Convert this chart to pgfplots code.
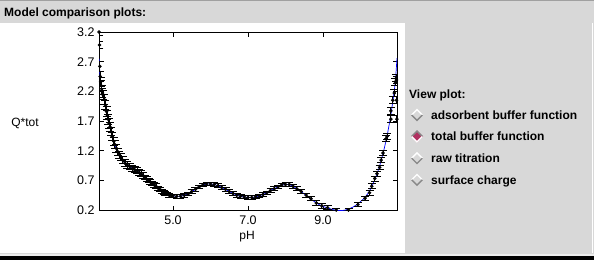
\documentclass[border=0pt]{standalone}
\usepackage{fontspec}
\setmainfont{Liberation Sans}
\usepackage{pgfplots}
\usepackage{pgfplotstable}
\pgfplotsset{compat=1.18}
\definecolor{bg}{RGB}{216,216,216}
\definecolor{edge}{RGB}{136,136,136}
\definecolor{sel}{RGB}{176,48,96}
\definecolor{topline}{RGB}{160,160,160}

\pgfplotstableread{
x y e
3.03 3.20 0.06
3.04 2.98 0.06
3.05 2.62 0.08
3.06 2.45 0.08
3.07 2.36 0.08
3.08 2.30 0.08
3.10 2.22 0.08
3.12 2.17 0.08
3.14 2.14 0.08
3.17 2.06 0.08
3.20 1.97 0.08
3.23 1.86 0.08
3.25 1.80 0.08
3.27 1.73 0.08
3.30 1.66 0.08
3.32 1.60 0.07
3.35 1.52 0.07
3.38 1.44 0.07
3.42 1.36 0.07
3.45 1.30 0.07
3.49 1.24 0.07
3.53 1.18 0.06
3.57 1.13 0.06
3.61 1.09 0.06
3.66 1.04 0.06
3.72 0.99 0.06
3.78 0.96 0.06
3.85 0.93 0.05
3.92 0.90 0.05
3.98 0.88 0.05
4.04 0.86 0.05
4.10 0.83 0.05
4.15 0.81 0.05
4.20 0.78 0.05
4.25 0.75 0.04
4.30 0.72 0.04
4.35 0.70 0.04
4.40 0.67 0.04
4.45 0.65 0.04
4.50 0.62 0.04
4.55 0.60 0.04
4.60 0.57 0.035
4.65 0.55 0.035
4.70 0.52 0.035
4.75 0.50 0.035
4.80 0.48 0.03
4.85 0.47 0.03
4.90 0.45 0.03
4.95 0.44 0.03
5.00 0.44 0.03
5.10 0.43 0.03
5.20 0.43 0.03
5.30 0.45 0.03
5.40 0.47 0.03
5.50 0.51 0.03
5.60 0.55 0.03
5.70 0.59 0.03
5.80 0.62 0.03
5.90 0.64 0.03
6.00 0.64 0.03
6.10 0.63 0.03
6.20 0.61 0.03
6.30 0.58 0.03
6.40 0.55 0.03
6.50 0.51 0.03
6.60 0.48 0.03
6.70 0.45 0.03
6.80 0.43 0.03
6.90 0.42 0.03
7.00 0.41 0.03
7.10 0.41 0.03
7.20 0.42 0.03
7.30 0.44 0.03
7.40 0.46 0.03
7.50 0.49 0.03
7.60 0.53 0.03
7.70 0.56 0.03
7.80 0.59 0.03
7.90 0.62 0.03
8.00 0.63 0.03
8.10 0.63 0.03
8.20 0.60 0.03
8.30 0.56 0.035
8.42 0.51 0.035
8.55 0.45 0.035
8.68 0.39 0.035
8.82 0.32 0.035
8.97 0.27 0.035
9.12 0.24 0.035
9.35 0.20 0.035
9.68 0.20 0.035
9.93 0.29 0.035
10.12 0.40 0.035
10.24 0.49 0.04
10.30 0.60 0.04
10.38 0.73 0.04
10.44 0.81 0.04
10.51 0.92 0.04
10.55 1.04 0.04
10.60 1.16 0.045
10.68 1.40 0.05
10.71 1.44 0.05
10.81 1.73 0.06
10.97 1.73 0.06
10.81 1.87 0.06
10.86 2.05 0.06
10.96 2.05 0.06
10.90 2.17 0.06
10.93 2.36 0.06
10.95 2.42 0.06
10.96 2.39 0.06
}\data

\pgfplotstableread{
x y
3.03 2.75
3.05 2.50
3.08 2.32
3.12 2.18
3.16 2.07
3.20 1.96
3.25 1.82
3.30 1.68
3.35 1.54
3.40 1.40
3.45 1.30
3.50 1.22
3.55 1.16
3.60 1.10
3.70 1.01
3.80 0.95
3.90 0.91
4.00 0.88
4.10 0.83
4.20 0.78
4.30 0.72
4.40 0.67
4.50 0.62
4.60 0.56
4.70 0.51
4.80 0.48
4.90 0.45
5.00 0.44
5.10 0.43
5.20 0.43
5.30 0.45
5.40 0.47
5.50 0.51
5.60 0.55
5.70 0.59
5.80 0.62
5.90 0.64
6.00 0.64
6.10 0.63
6.20 0.61
6.30 0.58
6.40 0.55
6.50 0.51
6.60 0.48
6.70 0.45
6.80 0.43
6.90 0.42
7.00 0.41
7.10 0.41
7.20 0.42
7.30 0.44
7.40 0.46
7.50 0.49
7.60 0.53
7.70 0.56
7.80 0.59
7.90 0.62
8.00 0.63
8.10 0.63
8.20 0.60
8.30 0.56
8.40 0.52
8.50 0.47
8.60 0.42
8.70 0.37
8.80 0.33
8.90 0.29
9.00 0.26
9.10 0.24
9.20 0.22
9.30 0.20
9.40 0.19
9.50 0.19
9.60 0.20
9.70 0.22
9.80 0.25
9.90 0.29
10.00 0.34
10.10 0.40
10.20 0.48
10.30 0.59
10.40 0.74
10.50 0.92
10.60 1.15
10.70 1.42
10.80 1.76
10.85 1.98
10.90 2.20
10.94 2.45
10.973 2.76
}\fit

\newcommand{\radio}[3]{% x, y, selected(0/1)
  \ifnum#3=0
    \fill[bg] (#1-6,#2) -- (#1,#2+6) -- (#1+6,#2) -- (#1,#2-6) -- cycle;
    \draw[white, line width=1.4pt] (#1-5.3,#2) -- (#1,#2+5.3) -- (#1+5.3,#2);
    \draw[edge, line width=1.4pt] (#1-5.3,#2) -- (#1,#2-5.3) -- (#1+5.3,#2);
  \else
    \fill[sel] (#1-6,#2) -- (#1,#2+6) -- (#1+6,#2) -- (#1,#2-6) -- cycle;
    \draw[edge, line width=1.4pt] (#1-5.3,#2) -- (#1,#2+5.3) -- (#1+5.3,#2);
    \draw[white, line width=1.4pt] (#1-5.3,#2) -- (#1,#2-5.3) -- (#1+5.3,#2);
  \fi
}

\begin{document}
\begin{tikzpicture}[x=1pt,y=1pt]
% background
\fill[bg] (0,0) rectangle (594,260);
\fill[topline] (0,258.5) rectangle (594,260);
\fill[white] (0,7) rectangle (405,237);
\fill[white!93!black] (0,4) rectangle (594,6.5);
\fill[black] (0,0) rectangle (594,4);
\fill[white] (591.5,7) rectangle (592.5,237);
% title
\node[anchor=base west, inner sep=0pt, font=\bfseries\fontsize{12}{12}\selectfont] at (4,243.3) {Model comparison plots:};

\begin{axis}[
  at={(99pt,50pt)}, anchor=south west,
  scale only axis, width=298pt, height=178pt,
  xmin=3.027, xmax=10.973, ymin=0.2, ymax=3.2,
  xtick={5,7,9}, xticklabels={5.0,7.0,9.0},
  ytick={0.2,0.7,1.2,1.7,2.2,2.7,3.2},
  yticklabels={0.2,0.7,1.2,1.7,2.2,2.7,3.2},
  tick align=inside, major tick length=4.5pt,
  tick style={black, line width=0.8pt},
  axis line style={line width=0.9pt},
  ticklabel style={font=\fontsize{12.5}{12.5}\selectfont},
  xticklabel style={yshift=-2pt},
  yticklabel style={xshift=-1pt},
]
\addplot[blue, line width=0.7pt, no marks] table[x=x,y=y] {\fit};
\addplot[only marks, black, mark=*, mark size=1.6pt,
  error bars/.cd, y dir=both, y explicit,
  error mark=|, error mark options={mark size=4pt, line width=0.8pt, black},
  error bar style={line width=0.8pt, black}]
  table[x=x, y=y, y error=e] {\data};
\end{axis}

% axis labels
\node[anchor=base, inner sep=0pt, font=\fontsize{12}{12}\selectfont] at (25,133.5) {Q*tot};
\node[anchor=base, inner sep=0pt, font=\fontsize{12}{12}\selectfont] at (247,21) {pH};

% view plot panel
\node[anchor=base west, inner sep=0pt, font=\bfseries\fontsize{12}{12}\selectfont] at (409,161.7) {View plot:};
\radio{417}{145}{0}
\radio{417}{123.5}{1}
\radio{417}{101.8}{0}
\radio{417}{80.2}{0}
\node[anchor=base west, inner sep=0pt, font=\bfseries\fontsize{12}{12}\selectfont] at (431,140.5) {adsorbent buffer function};
\node[anchor=base west, inner sep=0pt, font=\bfseries\fontsize{12}{12}\selectfont] at (431,119) {total buffer function};
\node[anchor=base west, inner sep=0pt, font=\bfseries\fontsize{12}{12}\selectfont] at (431,97.3) {raw titration};
\node[anchor=base west, inner sep=0pt, font=\bfseries\fontsize{12}{12}\selectfont] at (431,75.7) {surface charge};
\end{tikzpicture}
\end{document}
